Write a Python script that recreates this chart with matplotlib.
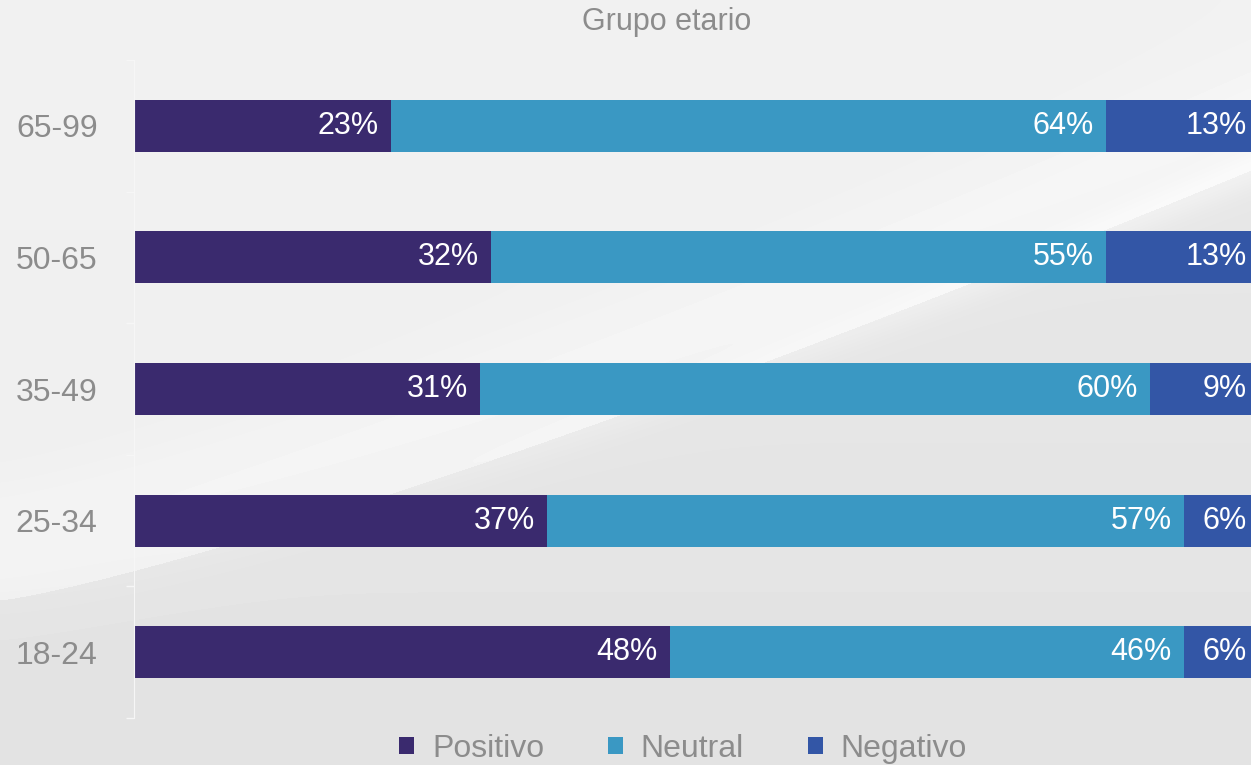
import numpy as np
import matplotlib.pyplot as plt

plt.rcParams['font.family'] = ['Liberation Sans', 'DejaVu Sans']

# data
groups = ['18-24', '25-34', '35-49', '50-65', '65-99']
positivo = [48, 37, 31, 32, 23]
neutral = [46, 57, 60, 55, 64]
negativo = [6, 6, 9, 13, 13]
series_names = ['Positivo', 'Neutral', 'Negativo']
colors = ['#3a2a6e', '#3a98c3', '#3356a6']
grey = '#8c8c8c'

fig = plt.figure(figsize=(12.51, 7.65), dpi=100)

# background: light grey with a soft white swoosh
bg = fig.add_axes([0, 0, 1, 1], zorder=-10)
W, H = 1251, 765
xx, yy = np.meshgrid(np.arange(W), np.arange(H))
curve = 600 - 430 * (xx / W) ** 1.2
d = yy - curve
img = np.where(d < 0, 0.945 - 0.012 * (yy / H), 0.91 - 0.02 * (yy / H))
img = img + 0.03 * np.exp(-(d / 20.0) ** 2) * (xx / W)
img = img + 0.02 * np.exp(-((d + 60) / 60.0) ** 2)
img = np.clip(img, 0, 1)
bg.imshow(img, cmap='gray', vmin=0, vmax=1, aspect='auto', extent=[0, W, H, 0])
bg.axis('off')

ax = fig.add_axes([0.107, 0.0614, 0.893, 0.8602])
ax.set_facecolor('none')

y = np.arange(len(groups))
left = np.zeros(len(groups))
pads = [1.1, 1.1, 0.35]
for vals, name, c, p in zip([positivo, neutral, negativo], series_names, colors, pads):
    ax.barh(y, vals, left=left, height=0.395, color=c, label=name)
    for yi, (l, v) in enumerate(zip(left, vals)):
        ax.text(l + v - p, yi, f'{v}%', ha='right', va='center',
                color='white', fontsize=22)
    left = left + np.array(vals)

ax.set_xlim(0, 100)
ax.set_ylim(-0.5, len(groups) - 0.5)
ax.set_xticks([])
ax.set_yticks(y)
ax.set_yticklabels(groups, fontsize=23, color=grey)
ax.tick_params(axis='y', which='major', length=0, pad=26)
ax.set_yticks(np.arange(-0.5, len(groups)), minor=True)
ax.tick_params(axis='y', which='minor', length=6, color='#f6f6f6', width=1)
for s in ['top', 'right', 'bottom']:
    ax.spines[s].set_visible(False)
ax.spines['left'].set_color('#f6f6f6')

fig.text(0.533, 0.971, 'Grupo etario', ha='center', va='center',
         fontsize=22, color=grey)

fig.legend(loc='center', bbox_to_anchor=(0.546, 0.021), ncol=3, frameon=False,
           fontsize=23, labelcolor=grey, handlelength=0.47, handleheight=0.47,
           handletextpad=0.55, columnspacing=2.0)

fig.savefig('out.png', dpi=100)
